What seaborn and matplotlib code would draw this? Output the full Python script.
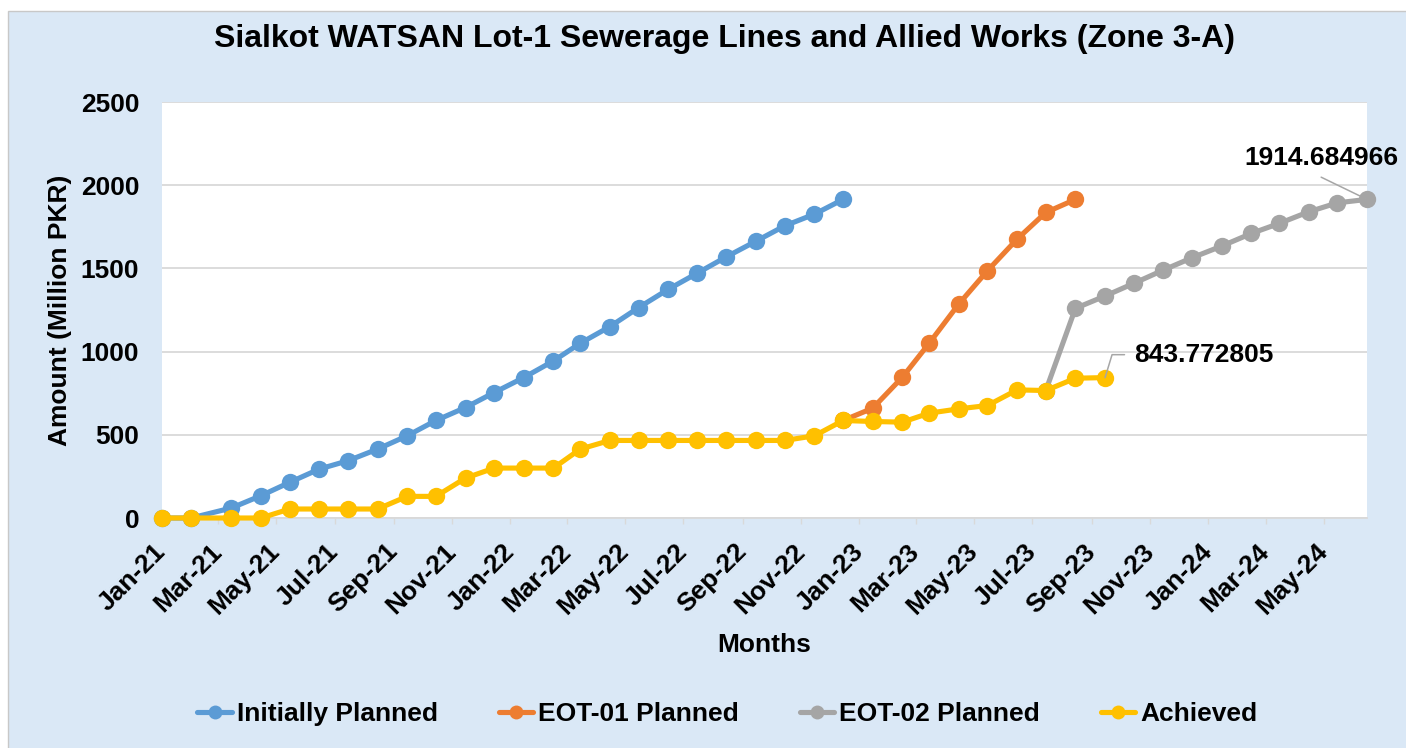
import matplotlib
matplotlib.use("Agg")
import pandas as pd
import matplotlib.pyplot as plt
import matplotlib.dates as mdates
from matplotlib.patches import Rectangle
from matplotlib.lines import Line2D
import seaborn as sns

# ---------------- data ----------------
dates = [
    "2021-01-01", "2021-02-01", "2021-03-15", "2021-04-15", "2021-05-15", "2021-06-15",
    "2021-07-15", "2021-08-15", "2021-09-15", "2021-10-15", "2021-11-15", "2021-12-15",
    "2022-01-15", "2022-02-15", "2022-03-15", "2022-04-15", "2022-05-15", "2022-06-15",
    "2022-07-15", "2022-08-15", "2022-09-15", "2022-10-15", "2022-11-15", "2022-12-15",
    "2023-01-15", "2023-02-15", "2023-03-15", "2023-04-15", "2023-05-15", "2023-06-15",
    "2023-07-15", "2023-08-15", "2023-09-15", "2023-10-15", "2023-11-15", "2023-12-15",
    "2024-01-15", "2024-02-15", "2024-03-15", "2024-04-15", "2024-05-15", "2024-06-15",
]

initially_planned = [0, 0, 60, 134, 214, 294, 344, 414, 494, 586, 664, 754,
                     844, 944, 1050, 1150, 1264, 1374, 1470, 1570, 1664, 1756, 1826, 1914.684966]
initially_start = 0

eot01_planned = [586, 660, 846, 1050, 1286, 1486, 1676, 1836, 1914.684966]
eot01_start = 23

eot02_planned = [766, 1260, 1334, 1410, 1490, 1564, 1634, 1710, 1770, 1840, 1894, 1914.684966]
eot02_start = 30

achieved = [0, 0, 0, 0, 54, 54, 54, 54, 130, 130, 240, 300,
            300, 300, 414, 466, 466, 466, 466, 466, 466, 466, 494, 586,
            580, 576, 630, 656, 676, 770, 766, 840, 843.772805]
achieved_start = 0

series_names = ["Initially Planned", "EOT-01 Planned", "EOT-02 Planned", "Achieved"]
title = "Sialkot WATSAN Lot-1 Sewerage Lines and Allied Works (Zone 3-A)"
x_title = "Months"
y_title = "Amount (Million PKR)"
y_ticks = [0, 500, 1000, 1500, 2000, 2500]

# ---------------- style ----------------
colors = ["#5B9BD5", "#ED7D31", "#A5A5A5", "#FFC000"]
W, H = 1406, 748

sns.set_theme(style="white")
plt.rcParams["font.family"] = ["Liberation Sans", "DejaVu Sans"]
plt.rcParams["font.weight"] = "bold"
plt.rcParams["axes.labelweight"] = "bold"
plt.rcParams["text.color"] = "black"
plt.rcParams["axes.labelcolor"] = "black"
plt.rcParams["xtick.labelcolor"] = "black"
plt.rcParams["ytick.labelcolor"] = "black"

fig = plt.figure(figsize=(W / 100, H / 100), dpi=100, facecolor="white")
fig.patches.append(Rectangle((8 / W, -0.05), 1.1, 1 - 11 / H + 0.05,
                             transform=fig.transFigure, facecolor="#DAE8F6",
                             edgecolor="#C8C8C8", lw=1.0, zorder=-10))

ax = fig.add_axes([161.5 / W, 1 - 518 / H, (1367 - 161.5) / W, 416 / H])
ax.set_facecolor("white")

all_series = [
    (initially_planned, initially_start),
    (eot01_planned, eot01_start),
    (eot02_planned, eot02_start),
    (achieved, achieved_start),
]

for (vals, start), name, col in zip(all_series, series_names, colors):
    df = pd.DataFrame({"date": pd.to_datetime(dates[start:start + len(vals)]),
                       "value": vals})
    sns.lineplot(data=df, x="date", y="value", ax=ax, color=col, lw=3.7,
                 marker="o", markersize=12.5, markeredgewidth=0,
                 clip_on=False, zorder=3, legend=False)

# axes
ax.set_xlim(pd.Timestamp(dates[0]), pd.Timestamp(dates[-1]))
ax.set_ylim(y_ticks[0], y_ticks[-1])
ax.set_yticks(y_ticks)
ax.xaxis.set_major_locator(mdates.MonthLocator(bymonth=(1, 3, 5, 7, 9, 11)))
ax.xaxis.set_major_formatter(mdates.DateFormatter("%b-%y"))
ax.grid(axis="y", color="#D9D9D9", lw=1.3)
ax.grid(axis="x", visible=False)
for s in ["top", "right", "left"]:
    ax.spines[s].set_visible(False)
ax.spines["bottom"].set_color("#D9D9D9")
ax.spines["bottom"].set_linewidth(1.3)
ax.set_axisbelow(True)

ax.tick_params(axis="y", length=0, pad=16, labelsize=19, labelcolor="black")
ax.tick_params(axis="x", length=4.5, width=1, color="#D9D9D9", direction="out",
               pad=17, labelsize=19, bottom=True, labelcolor="black")
for lab in ax.get_yticklabels():
    lab.set_fontweight("bold")
for lab in ax.get_xticklabels():
    lab.set_rotation(45)
    lab.set_ha("right")
    lab.set_va("center")
    lab.set_rotation_mode("anchor")
    lab.set_fontweight("bold")

ax.set_xlabel(x_title, fontsize=19, fontweight="bold", color="black")
ax.set_ylabel(y_title, fontsize=19, fontweight="bold", color="black")
ax.xaxis.set_label_coords(0.5, -0.305)
ax.xaxis.label.set_va("center")
ax.yaxis.set_label_coords(-0.0842, 0.5)
ax.yaxis.label.set_va("center")

fig.text(724 / W, 1 - 39 / H, title, ha="center", va="center",
         fontsize=23, fontweight="bold", color="black")

# data labels
last_e2 = (pd.Timestamp(dates[eot02_start + len(eot02_planned) - 1]), eot02_planned[-1])
last_ach = (pd.Timestamp(dates[achieved_start + len(achieved) - 1]), achieved[-1])
lead = dict(arrowstyle="-", color="#A6A6A6", lw=1.1, shrinkA=0, shrinkB=0)

ax.annotate("", xy=last_e2, xytext=(-33, 16), textcoords="offset points",
            arrowprops=lead, annotation_clip=False)
ax.annotate(f"{eot02_planned[-1]:.6f}", xy=last_e2, xytext=(-33, 30),
            textcoords="offset points", ha="center", va="center",
            fontsize=19, fontweight="bold", color="black", annotation_clip=False)

ax.annotate("", xy=last_ach, xytext=(14, 16.5), textcoords="offset points",
            arrowprops=dict(lead, connectionstyle="angle,angleA=0,angleB=73,rad=0"),
            annotation_clip=False)
ax.annotate(f"{achieved[-1]:.6f}", xy=last_ach, xytext=(21, 16.5),
            textcoords="offset points", ha="left", va="center",
            fontsize=19, fontweight="bold", color="black", annotation_clip=False)

# legend
handles = [Line2D([0], [0], color=c, lw=3.7, marker="o", markersize=10,
                  markeredgewidth=0) for c in colors]
leg = fig.legend(handles, series_names, loc="center",
                 bbox_to_anchor=(727.5 / W, 1 - 714 / H),
                 ncol=4, frameon=False, handlelength=1.3, handletextpad=0.2,
                 columnspacing=2.3, prop={"weight": "bold", "size": 19})
for t in leg.get_texts():
    t.set_color("black")

fig.savefig("out.png", dpi=100, facecolor="white")
